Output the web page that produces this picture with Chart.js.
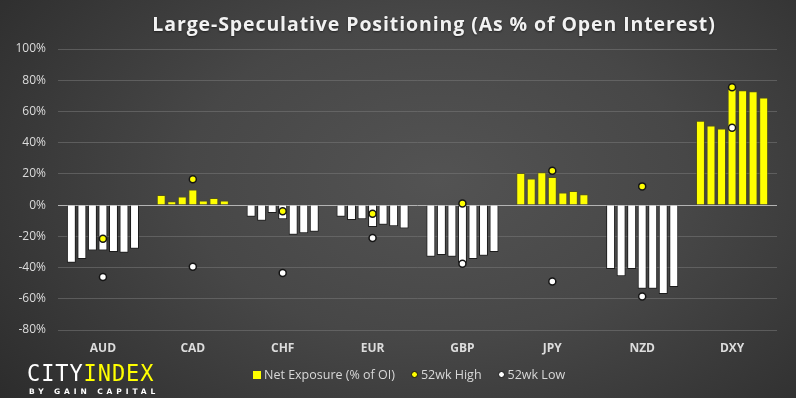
<!DOCTYPE html>
<html>
<head>
<meta charset="utf-8">
<script src="https://cdn.jsdelivr.net/npm/chart.js@4/dist/chart.umd.min.js"></script>
<style>
  html, body { margin: 0; padding: 0; }
  body {
    width: 796px; height: 398px; overflow: hidden; position: relative;
    background: radial-gradient(ellipse 70% 90% at 55% 45%, #535353 0%, #474747 45%, #2c2c2c 100%);
    font-family: 'Open Sans', sans-serif;
  }
  #wrap { position: absolute; left: 0; top: 0; width: 796px; height: 398px; }
  .title {
    position: absolute; left: 0; width: 868px; top: 10px; text-align: center;
    color: #f2f2f2; font-weight: bold; font-size: 19.5px; letter-spacing: 0.9px;
    text-shadow: 0 1px 2px rgba(0,0,0,0.5);
  }
  .legend {
    position: absolute; left: 253px; top: 366px; color: #d8d8d8; font-size: 12.5px;
    display: flex; align-items: center; white-space: nowrap;
  }
  .legend .sq { width: 8px; height: 8px; background: #ffff00; margin-right: 3px; }
  .legend .dot { width: 5px; height: 5px; border-radius: 50%; border: 1.5px solid #111; margin-right: 3px; }
  .legend .gap { width: 16px; }
  .logo { position: absolute; left: 27px; top: 360px; }
  .logo .big { font-family: 'DejaVu Sans Mono', monospace; font-size: 22px; line-height: 23px; color: #fff; letter-spacing: 0.9px; transform: scaleY(1.08); transform-origin: top left; }
  .logo .big span { color: #ffff00; }
  .logo .small { font-family: 'DejaVu Sans', sans-serif; font-weight: bold; font-size: 7.5px; color: #fff; letter-spacing: 3.9px; margin-top: 4px; padding-left: 2px; }
</style>
</head>
<body>
<div id="wrap"><canvas id="chart" width="796" height="398"></canvas></div>
<div class="title">Large-Speculative Positioning (As % of Open Interest)</div>
<div class="legend">
  <div class="sq"></div><span>Net Exposure (% of OI)</span><div class="gap"></div>
  <div class="dot" style="background:#ffff00"></div><span>52wk High</span><div class="gap"></div>
  <div class="dot" style="background:#ffffff"></div><span>52wk Low</span>
</div>
<div class="logo">
  <div class="big">CITY<span>INDEX</span></div>
  <div class="small">BY GAIN CAPITAL</div>
</div>
<script>
const categories = ['AUD', 'CAD', 'CHF', 'EUR', 'GBP', 'JPY', 'NZD', 'DXY'];

// net exposure over the last 7 weeks, per currency (% of open interest)
const audNet = [-37, -34.5, -29, -29, -30, -30.5, -28];
const cadNet = [6.5, 2.5, 5.5, 10, 3, 4.5, 3];
const chfNet = [-7.5, -10, -5, -9, -19, -18, -17];
const eurNet = [-7.5, -9.5, -9, -14, -12.5, -13.5, -15];
const gbpNet = [-33, -32, -33, -37, -34.5, -32.5, -30];
const jpyNet = [20.5, 17, 21, 18, 8, 9, 7];
const nzdNet = [-41, -45.5, -41, -53.5, -53.5, -57, -52.5];
const dxyNet = [54, 51, 49, 74.5, 73.5, 73, 69];

const high52 = [-21.5, 16.5, -4, -5.5, 1, 22, 12, 75.5];
const low52 = [-46, -39.5, -43.5, -21, -37.5, -49, -58.5, 49.5];

const yTicks = [-80, -60, -40, -20, 0, 20, 40, 60, 80, 100];

const netByCurrency = [audNet, cadNet, chfNet, eurNet, gbpNet, jpyNet, nzdNet, dxyNet];
const weeks = audNet.length;

const barSets = [];
for (let w = 0; w < weeks; w++) {
  barSets.push({
    type: 'bar',
    label: 'Net Exposure (% of OI)',
    data: netByCurrency.map(arr => arr[w]),
    backgroundColor: ctx => ctx.raw >= 0 ? '#ffff00' : '#ffffff',
    borderColor: ctx => ctx.raw >= 0 ? 'rgba(90,90,0,0.6)' : 'rgba(20,20,20,0.85)',
    borderWidth: 1,
    categoryPercentage: 0.82,
    barPercentage: 0.85,
    order: 2
  });
}

const ctx = document.getElementById('chart').getContext('2d');
new Chart(ctx, {
  data: {
    labels: categories,
    datasets: [
      ...barSets,
      {
        type: 'line', label: '52wk High', data: high52, showLine: false,
        pointRadius: 3.5, pointBackgroundColor: '#ffff00', pointBorderColor: '#151515',
        pointBorderWidth: 1.5, order: 0
      },
      {
        type: 'line', label: '52wk Low', data: low52, showLine: false,
        pointRadius: 3.5, pointBackgroundColor: '#ffffff', pointBorderColor: '#151515',
        pointBorderWidth: 1.5, order: 0
      }
    ]
  },
  options: {
    responsive: false,
    animation: false,
    layout: { padding: { top: 49, right: 19, bottom: 40, left: 0 } },
    plugins: {
      legend: { display: false },
      title: { display: false },
      tooltip: { enabled: false }
    },
    scales: {
      x: {
        grid: { display: false, drawTicks: false },
        border: { display: false },
        ticks: { color: '#dcdcdc', padding: 11, font: { family: 'Open Sans', size: 12, weight: 'bold' } },
        afterFit: s => { s.height = 28; }
      },
      y: {
        min: -80, max: 100,
        afterBuildTicks: s => { s.ticks = yTicks.map(v => ({ value: v })); },
        grid: {
          color: c => c.tick.value === 0 ? '#b4b4b4' : 'rgba(120,120,120,0.55)',
          drawTicks: false
        },
        border: { display: false },
        ticks: {
          color: '#dcdcdc', padding: 12,
          font: { family: 'Open Sans', size: 12 },
          callback: v => v + '%'
        },
        afterFit: s => { s.width = 58; }
      }
    }
  }
});
</script>
</body>
</html>
